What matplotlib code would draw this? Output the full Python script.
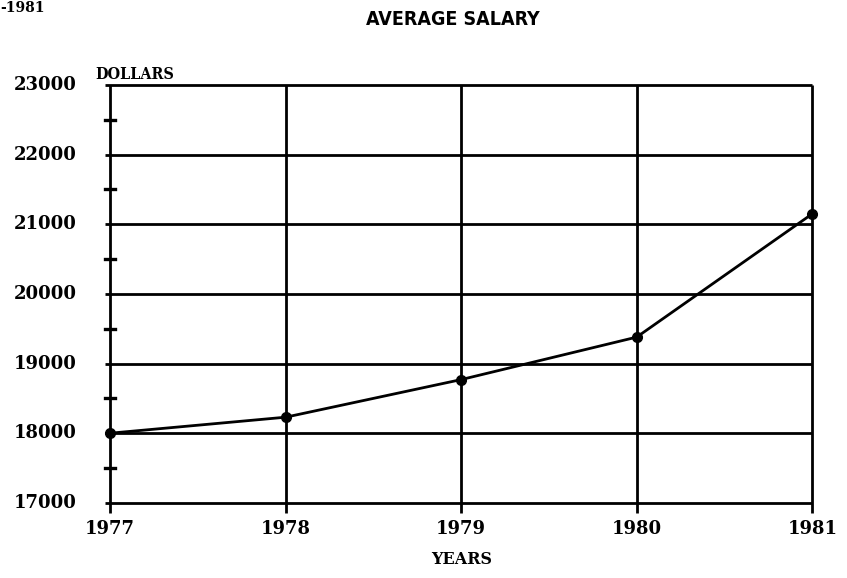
import matplotlib
matplotlib.use("Agg")
import matplotlib.pyplot as plt

# data
years = [1977, 1978, 1979, 1980, 1981]
salary = [18000, 18230, 18770, 19380, 21150]
y_major = [17000, 18000, 19000, 20000, 21000, 22000, 23000]
y_minor = [17500, 18500, 19500, 20500, 21500, 22500]

fig = plt.figure(figsize=(8.47, 5.78), dpi=100)
ax = fig.add_axes([0.130, 0.130, 0.829, 0.723])

lw = 2.0
for v in y_major:
    ax.plot([years[0] - 0.03, years[-1]], [v, v], color="black", lw=lw,
            solid_capstyle="butt", clip_on=False)
for yr in years:
    ax.plot([yr, yr], [y_major[0] - 140, y_major[-1]], color="black", lw=lw,
            solid_capstyle="butt", clip_on=False)
for v in y_minor:
    ax.plot([years[0] - 0.03, years[0] + 0.03], [v, v], color="black", lw=2.4,
            clip_on=False)

ax.plot(years, salary, color="black", lw=2.0, marker="o", markersize=7,
        clip_on=False)

ax.set_xlim(years[0], years[-1])
ax.set_ylim(y_major[0], y_major[-1])
for s in ax.spines.values():
    s.set_visible(False)
ax.set_xticks([])
ax.set_yticks([])

tick_font = dict(family="DejaVu Serif", fontweight="bold", fontsize=13)
for v in y_major:
    ax.text(years[0] - 0.19, v, str(v), ha="right", va="center", **tick_font)
for yr in years:
    ax.text(yr, y_major[0] - 250, str(yr), ha="center", va="top", **tick_font)

ax.text(years[0] - 0.085, y_major[-1] + 30, "DOLLARS", ha="left", va="bottom",
        family="DejaVu Serif", fontweight="bold", fontsize=11.5,
        fontstretch="condensed")
ax.text(1979, y_major[0] - 820, "YEARS", ha="center", va="center",
        family="DejaVu Serif", fontweight="bold", fontsize=11.5)

fig.text(0.535, 0.967, "AVERAGE SALARY", ha="center", va="center",
         family="DejaVu Sans", fontweight="bold", fontsize=14,
         fontstretch="condensed")
fig.text(0.0, 0.999, "-1981", ha="left", va="top",
         family="DejaVu Serif", fontweight="bold", fontsize=10)

fig.savefig("out.png", dpi=100, facecolor="white")
